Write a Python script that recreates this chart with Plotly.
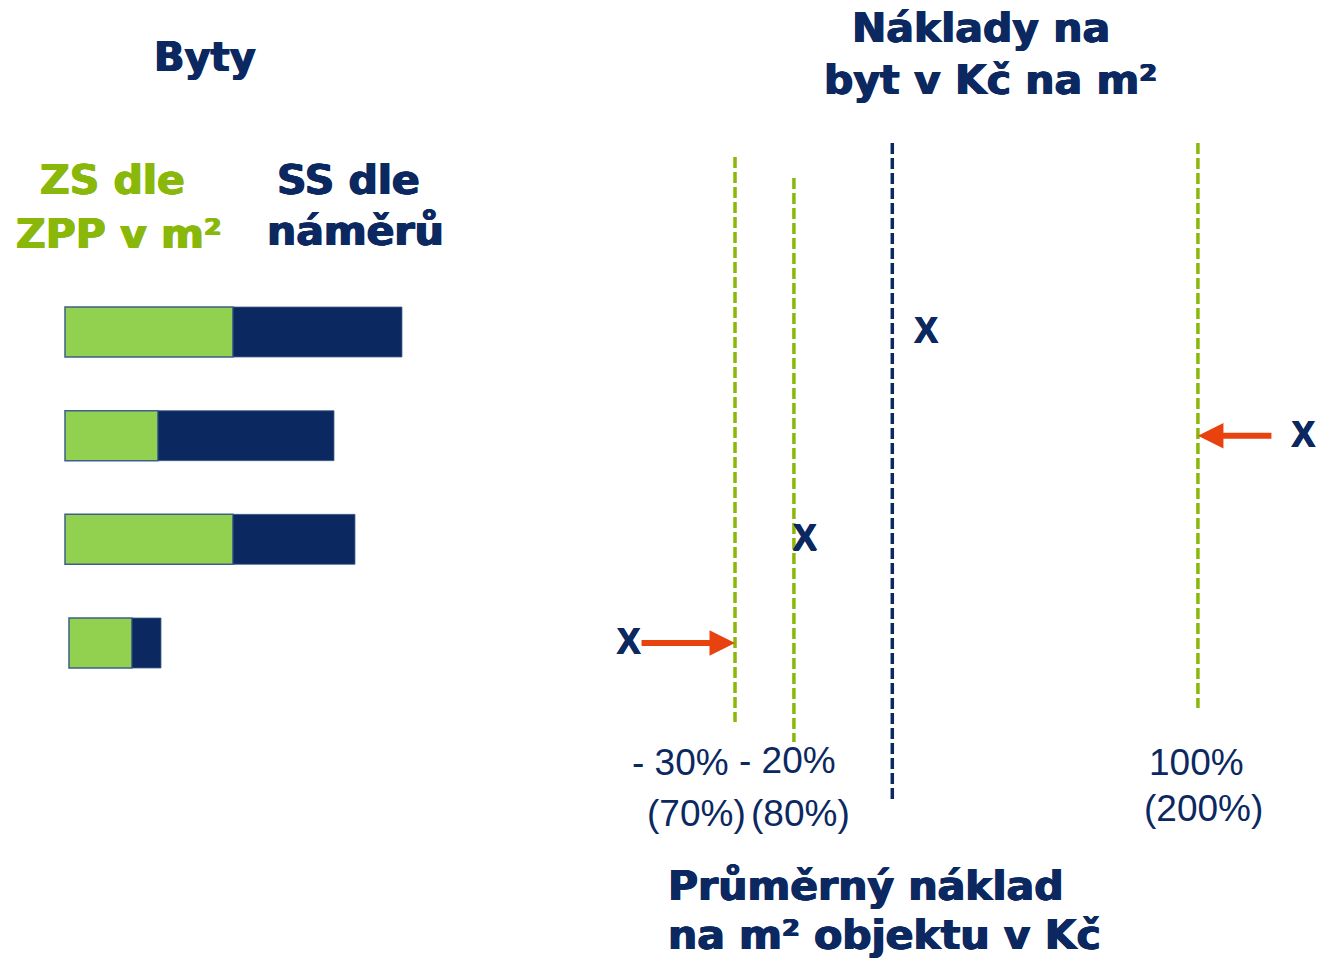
import math
import plotly.graph_objects as go

# ---------------- data ----------------
rows = [1, 2, 3, 4]                       # flats (top to bottom)
zs_zpp_m2 = [42, 23.25, 42, 15.75]        # ZS dle ZPP v m2 (green part)
ss_namer = [42.25, 44, 30.5, 7.25]        # SS dle náměrů (navy part)
bar_start = [0, 0, 0, 1]

cost_pct = [108, 254, 82, 55]             # cost per m2 of flat, % of average
avg_pct = 100
lower_limits = [70, 80]
upper_limit = 200
capped_rows = [2, 4]                      # rows whose value is moved to a limit
capped_to = [200, 70]

limit_top = ["- 30%", "- 20%", "100%"]
limit_bottom = ["(70%)", "(80%)", "(200%)"]

# ---------------- style ----------------
W, H = 1318, 963
NAVY = "#0C2861"
GREEN_BAR = "#92D050"
GREEN_LINE = "#89B80A"
ORANGE = "#E8420F"
BOLD = "DejaVu Sans"
REG = "Liberation Sans"

def heavy(color, d=0.8):
    return f"{d}px 0 0 {color}, -{d}px 0 0 {color}, 0 0.3px 0 {color}"

ROW_PX = 103.67
def py2y(px):
    return 1 + (px - 332) / ROW_PX

fig = go.Figure()

fig.add_trace(go.Bar(
    y=rows, x=zs_zpp_m2, base=bar_start, orientation="h", width=0.482,
    marker=dict(color=GREEN_BAR, line=dict(color="#3E5F8A", width=1.5)),
    xaxis="x", yaxis="y", showlegend=False, hoverinfo="skip"))
fig.add_trace(go.Bar(
    y=rows, x=ss_namer, base=[b + g for b, g in zip(bar_start, zs_zpp_m2)],
    orientation="h", width=0.482,
    marker=dict(color=NAVY, line=dict(color="#3E5F8A", width=0.8)),
    xaxis="x", yaxis="y", showlegend=False, hoverinfo="skip"))

line_extent = {70: (157, 722), 80: (178, 742), 200: (143, 708)}
for v in lower_limits + [upper_limit]:
    y0, y1 = line_extent[v]
    fig.add_trace(go.Scatter(
        x=[v, v], y=[py2y(y0), py2y(y1)], mode="lines",
        line=dict(color=GREEN_LINE, width=3.5, dash="11px,4px"),
        xaxis="x2", yaxis="y", showlegend=False, hoverinfo="skip"))
fig.add_trace(go.Scatter(
    x=[avg_pct, avg_pct], y=[py2y(143), py2y(803)], mode="lines",
    line=dict(color=NAVY, width=3.5, dash="11px,4px"),
    xaxis="x2", yaxis="y", showlegend=False, hoverinfo="skip"))

fig.add_trace(go.Scatter(
    x=cost_pct, y=[r + 0.02 for r in rows], mode="text", text=["<b>X</b>"] * len(rows),
    textfont=dict(family=REG, size=36, color=NAVY, shadow=heavy(NAVY, 0.6)),
    cliponaxis=False, textposition="middle center",
    xaxis="x2", yaxis="y", showlegend=False, hoverinfo="skip"))

annotations = []
offsets = {200: 75, 70: -95}
for r, lim in zip(capped_rows, capped_to):
    annotations.append(dict(
        x=math.log10(lim), y=r, xref="x2", yref="y", ax=offsets[lim], ay=0,
        text="", showarrow=True,
        arrowhead=2, arrowsize=0.85, arrowwidth=6, arrowcolor=ORANGE, standoff=0))

def txt(s, px, py, size, color=NAVY, family=BOLD, weight=700, xanchor="center", shadow=True):
    f = dict(family=family, size=size, color=color, weight=weight)
    if shadow:
        f["shadow"] = heavy(color)
    annotations.append(dict(
        text=s, x=px / W, y=1 - py / H,
        xref="paper", yref="paper", xanchor=xanchor, yanchor="middle",
        showarrow=False, font=f))

txt("Byty", 205, 57, 40)
txt("ZS dle", 112, 180, 41, GREEN_LINE)
txt("ZPP v m²", 119, 234, 41, GREEN_LINE)
txt("SS dle", 348, 180, 41)
txt("náměrů", 356, 231, 41)
txt("Náklady na", 981, 28, 41)
txt("byt v Kč na m²", 990, 80, 41)
txt("Průměrný náklad", 666, 886, 41, xanchor="left")
txt("na m² objektu v Kč", 666, 935, 41, xanchor="left")

label_pos_top = [(680, 762), (787, 760), (1196, 762)]
label_pos_bot = [(696, 813), (800, 813), (1203, 808)]
for s, (px, py) in zip(limit_top, label_pos_top):
    txt(s, px, py, 37, family=REG, weight=400, shadow=False)
for s, (px, py) in zip(limit_bottom, label_pos_bot):
    txt(s, px, py, 37, family=REG, weight=400, shadow=False)

fig.update_layout(
    width=W, height=H, autosize=False,
    margin=dict(l=0, r=0, t=0, b=0, pad=0),
    paper_bgcolor="white", plot_bgcolor="rgba(0,0,0,0)",
    barmode="overlay", showlegend=False,
    xaxis=dict(domain=[0, 461.3 / W], range=[-16.25, 99.08], visible=False, fixedrange=True),
    xaxis2=dict(domain=[593.1 / W, 1], type="log", range=[1.7053, 2.4193],
                anchor="y", visible=False, fixedrange=True),
    yaxis=dict(domain=[0, 1], range=[py2y(963), py2y(0)], visible=False, fixedrange=True),
    annotations=annotations,
)

fig.write_html("out.html", config={"displayModeBar": False},
               post_script="document.body.style.margin='0';document.body.style.overflow='hidden';")
